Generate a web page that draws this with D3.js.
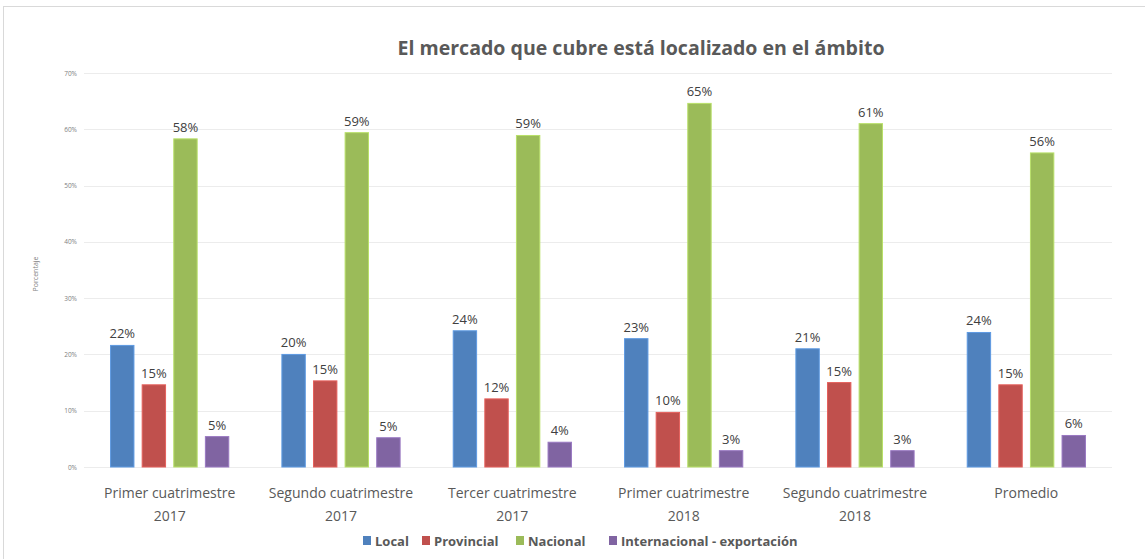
<!DOCTYPE html>
<html>
<head>
<meta charset="utf-8">
<script src="https://cdn.jsdelivr.net/npm/d3@7"></script>
<style>
  body { margin: 0; background: #fff; }
  text { font-family: "Open Sans", "Noto Sans", sans-serif; }
</style>
</head>
<body>
<script>
const width = 1145;
const height = 559;
const margin = { top: 73, right: 33, bottom: 92, left: 84 };

const categories = [
  ["Primer cuatrimestre", "2017"],
  ["Segundo cuatrimestre", "2017"],
  ["Tercer cuatrimestre", "2017"],
  ["Primer cuatrimestre", "2018"],
  ["Segundo cuatrimestre", "2018"],
  ["Promedio"]
];
const seriesNames = ["Local", "Provincial", "Nacional", "Internacional - exportación"];
const colors = ["#4f81bd", "#c0504d", "#9bbb59", "#8064a2"];

// percentages per series, one value per category
const local = [21.6, 20.0, 24.2, 22.8, 21.0, 23.9];
const provincial = [14.6, 15.3, 12.1, 9.7, 15.0, 14.6];
const nacional = [58.3, 59.4, 58.9, 64.6, 61.0, 55.8];
const internacional = [5.4, 5.2, 4.4, 2.9, 2.9, 5.6];
const yTicks = [0, 10, 20, 30, 40, 50, 60, 70];

const series = [local, provincial, nacional, internacional];

const chartWidth = width - margin.left - margin.right;
const chartHeight = height - margin.top - margin.bottom;

const svg = d3.select("body")
  .append("svg")
  .attr("width", width)
  .attr("height", height);

// outer frame
svg.append("rect")
  .attr("x", 3.5)
  .attr("y", 6.5)
  .attr("width", width)
  .attr("height", height)
  .attr("fill", "none")
  .attr("stroke", "#d9d9d9");

const g = svg.append("g")
  .attr("transform", `translate(${margin.left}, ${margin.top})`);

const x0 = d3.scaleBand()
  .domain(d3.range(categories.length))
  .range([0, chartWidth])
  .paddingInner(0.31)
  .paddingOuter(0.155);

const x1 = d3.scaleBand()
  .domain(d3.range(seriesNames.length))
  .range([0, x0.bandwidth()])
  .paddingInner(0.26);

const y = d3.scaleLinear()
  .domain([0, 70])
  .range([chartHeight, 0]);

// grid
g.append("g")
  .selectAll("line")
  .data(yTicks)
  .join("line")
    .attr("x1", 0)
    .attr("x2", chartWidth)
    .attr("y1", d => Math.round(y(d)) + 0.5)
    .attr("y2", d => Math.round(y(d)) + 0.5)
    .attr("stroke", "#ececec");

const yAxis = d3.axisLeft(y)
  .tickValues(yTicks)
  .tickSize(0)
  .tickPadding(7)
  .tickFormat(d => `${d}%`);
g.append("g")
  .call(yAxis)
  .call(a => a.select(".domain").remove())
  .selectAll("text")
    .attr("font-size", 6.5)
    .attr("fill", "#808080");

g.append("text")
  .attr("transform", "rotate(-90)")
  .attr("x", -(y(35) + 4))
  .attr("y", -margin.left + 38)
  .attr("text-anchor", "middle")
  .attr("font-size", 7)
  .attr("fill", "#7f7f7f")
  .text("Porcentaje");

// bars
const groups = g.selectAll(".grp")
  .data(categories)
  .join("g")
    .attr("class", "grp")
    .attr("transform", (d, i) => `translate(${x0(i)}, 0)`);

groups.each(function(cat, ci) {
  const sel = d3.select(this);
  const vals = series.map((s, si) => ({ si, v: s[ci] }));
  sel.selectAll("rect")
    .data(vals)
    .join("rect")
      .attr("x", d => x1(d.si))
      .attr("y", d => y(d.v))
      .attr("width", x1.bandwidth())
      .attr("height", d => chartHeight - y(d.v))
      .attr("fill", d => colors[d.si])
      .attr("stroke", d => d3.color(colors[d.si]).brighter(0.5))
      .attr("stroke-width", 1);
  sel.selectAll("text.lbl")
    .data(vals)
    .join("text")
      .attr("class", "lbl")
      .attr("x", d => x1(d.si) + x1.bandwidth() / 2)
      .attr("y", d => y(d.v) - 7)
      .attr("text-anchor", "middle")
      .attr("font-size", 13)
      .attr("fill", "#404040")
      .text(d => `${Math.round(d.v)}%`);
});

// category labels
const xLabels = g.append("g")
  .selectAll("text")
  .data(categories)
  .join("text")
    .attr("x", (d, i) => x0(i) + x0.bandwidth() / 2)
    .attr("y", chartHeight + 31)
    .attr("text-anchor", "middle")
    .attr("font-size", 14)
    .attr("fill", "#595959");
xLabels.selectAll("tspan")
  .data(d => d)
  .join("tspan")
    .attr("x", function() { return d3.select(this.parentNode).attr("x"); })
    .attr("dy", (d, i) => i === 0 ? 0 : 23)
    .text(d => d);

// title
svg.append("text")
  .attr("x", 641)
  .attr("y", 55)
  .attr("text-anchor", "middle")
  .attr("font-size", 20)
  .attr("font-weight", "bold")
  .attr("fill", "#595959")
  .attr("textLength", 487)
  .attr("lengthAdjust", "spacingAndGlyphs")
  .text("El mercado que cubre está localizado en el ámbito");

// legend
const legendX = [363, 422, 516, 609];
const legend = svg.append("g")
  .selectAll("g")
  .data(seriesNames)
  .join("g")
    .attr("transform", (d, i) => `translate(${legendX[i]}, 546)`);
legend.append("rect")
  .attr("x", 0)
  .attr("y", -10)
  .attr("width", 8)
  .attr("height", 9)
  .attr("fill", (d, i) => colors[i]);
legend.append("text")
  .attr("x", 12)
  .attr("y", 0)
  .attr("font-size", 13)
  .attr("font-weight", "bold")
  .attr("fill", "#595959")
  .text(d => d);
</script>
</body>
</html>
